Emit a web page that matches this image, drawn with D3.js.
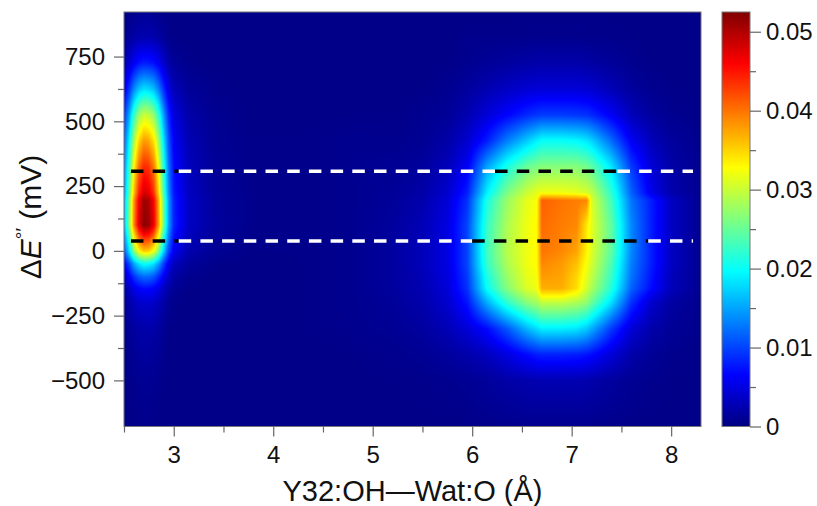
<!DOCTYPE html>
<html>
<head>
<meta charset="utf-8">
<script src="https://cdn.jsdelivr.net/npm/d3@7"></script>
<style>
  body { margin: 0; background: #fff; }
  svg { display: block; font-family: "Liberation Sans", Arial, Helvetica, sans-serif; }
</style>
</head>
<body>
<svg id="chart" width="817" height="506"></svg>
<script>
// distance grid (Å) = columns of the density map
const distNodes = [2.50, 2.55, 2.60, 2.65, 2.70, 2.75, 2.80, 2.85, 2.90, 2.95, 3.00, 3.15, 3.40, 3.80,
                   4.30, 4.80, 5.20, 5.50, 5.75, 5.95, 6.15, 6.35, 6.55, 6.65, 6.70, 6.90, 7.05, 7.15,
                   7.20, 7.40, 7.60, 7.80, 8.00, 8.30];
// potential grid (mV) = rows, top to bottom
const potNodes = [925, 825, 725, 625, 525, 425, 325, 225, 195, 100, 0, -50, -100, -145, -200, -300, -400, -500, -675];
// density, x 10^-3 (one row per potNodes entry)
const density = [
  [0.4,0.5,0.75,0.9,1,1,0.9,0.7,0.5,0.4,0.4,0.4,0.4,0.4, 0.4,0.4, 0.4,0.4,0.4,0.4,0.4,0.4,0.5,0.5,0.5,0.5,0.5,0.5,0.5,0.4,0.4,0.4,0.4,0.4],
  [0.75,1.25,1.9,2.3,2.5,2.45,2.25,1.8,1.2,0.7,0.4,0.4,0.4,0.4, 0.4,0.4, 0.4,0.4,0.4,0.6,0.6,0.6,0.6,0.7,0.7,0.7,0.7,0.6,0.6,0.6,0.5,0.4,0.4,0.4],
  [2.4,4,6,7.4,8,7.8,7.2,5.8,3.8,2.2,1.3,0.6,0.4,0.4, 0.4,0.4, 0.4,0.4,0.5,0.8,1.2,1.6,2,2.2,2.2,2.2,2.2,2,1.8,1.3,0.8,0.5,0.4,0.4],
  [5.4,9,13.5,16.6,18,17.6,16.2,13,8.6,5,2.9,1.3,0.6,0.4, 0.4,0.4, 0.4,0.5,0.8,1.5,2.5,3.5,4.2,4.5,4.5,4.5,4.5,4.2,4,2.8,1.5,0.8,0.5,0.4],
  [9,15,22.5,27.6,30,29.4,27,21.6,14.4,8.4,4.8,2.1,0.9,0.4, 0.4,0.5, 0.5,0.8,1.2,2.5,4.5,6.5,8.5,9.2,9.5,9.5,9.3,9,8.5,6,3,1.5,0.8,0.5],
  [11.4,19,28.5,35,38,37.2,34.2,27.4,18.2,10.6,6.1,2.7,1.1,0.5, 0.5,0.8, 0.7,1,2,4,8,13,17,19,20,20,19.5,18.5,17.5,12,6,3,1.5,0.7],
  [13.2,22,33,40.5,44,43.1,39.6,31.7,21.1,12.3,7,3.1,1.3,0.5, 0.5,0.8, 1,1.5,3,6,15,21,25,26,26.5,26.5,26.5,25.5,24.5,18.5,9.5,4.5,2,0.8],
  [14.4,24,36,44.2,48,47,43.2,34.6,23,13.4,7.7,3.4,1.4,0.6, 0.5,0.8, 1.2,2,4,8,19,26,30,31.5,32,32,31.5,30.5,29.5,22,11.5,5.5,2.3,0.8],
  [15.3,25.5,38.3,46.9,51,50,45.9,36.7,24.5,14.3,8.2,3.6,1.5,0.6, 0.5,0.8, 1.3,2.3,4.5,9,21,27.5,31.5,32.5,41,40,39.5,39,31,23,12.5,8,3.5,0.8],
  [15.6,26,39,47.8,52,51,46.8,37.4,25,14.6,8.3,3.6,1.6,0.6, 0.5,0.8, 1.5,2.8,5,10,22.5,28.5,32,33,40.5,39.5,39,34,31.5,24.5,13.5,8,3.5,0.8],
  [10.8,18,27,33.1,36,35.3,32.4,25.9,17.3,10.1,5.8,2.5,1.1,0.5, 0.5,0.8, 1.6,3,5,10,23,29,32,33,40,39,37.5,33.5,31,24.5,13.5,8,3.5,0.8],
  [6,10,15,18.4,20,19.6,18,14.4,9.6,5.6,3.2,1.4,0.6,0.4, 0.5,0.8, 1.6,3,5,10,22.5,28.5,32,33,39,38,36,32.5,30.5,23.5,13,8,3.5,0.8],
  [3.6,6,9,11,12,11.8,10.8,8.6,5.8,3.4,1.9,0.8,0.4,0.4, 0.5,0.8, 1.6,2.8,4.8,9.5,21,27.5,31.5,32.5,38,37.5,35,31.5,29.5,22.5,12.5,7.5,3,0.8],
  [2.1,3.5,5.3,6.4,7,6.9,6.3,5,3.4,2,1.1,0.5,0.4,0.4, 0.5,0.8, 1.5,2.6,4.5,9,20,26.5,31,32,37,37,34.5,30.5,28.5,21.5,11.5,7,3,0.8],
  [1.2,2,3,3.7,4,3.9,3.6,2.9,1.9,1.1,0.6,0.4,0.4,0.4, 0.5,0.8, 1.3,2.3,4,7.5,15.5,22,26.5,28,29.5,29.5,28.5,27,25,18,9,4,1.8,0.7],
  [0.7,1.1,1.65,2,2.2,2.15,2,1.6,1.05,0.6,0.4,0.4,0.4,0.4, 0.5,0.7, 1,1.6,2.8,4.5,7,11,16,18,19,19,18.5,17,15.5,9.5,4.5,2.2,1.2,0.6],
  [0.45,0.75,1.1,1.4,1.5,1.5,1.35,1.1,0.7,0.4,0.4,0.4,0.4,0.4, 0.4,0.5, 0.7,1,1.5,2.2,3.2,5,7,8,8.2,8.2,8,7.5,7,4.5,2.2,1.2,0.7,0.5],
  [0.4,0.5,0.75,0.9,1,1,0.9,0.7,0.5,0.4,0.4,0.4,0.4,0.4, 0.4,0.4, 0.5,0.6,0.8,1,1.4,2,2.4,2.5,2.6,2.6,2.5,2.4,2.2,1.6,1,0.7,0.5,0.4],
  [0.4,0.4,0.45,0.55,0.6,0.6,0.55,0.45,0.4,0.4,0.4,0.4,0.4,0.4, 0.4,0.4, 0.4,0.4,0.4,0.5,0.6,0.7,0.8,0.8,0.8,0.8,0.8,0.8,0.7,0.6,0.5,0.4,0.4,0.4]
];

const xTicks = [3, 4, 5, 6, 7, 8];
const xMinor = [2.5, 3.5, 4.5, 5.5, 6.5, 7.5];
const yTicks = [-500, -250, 0, 250, 500, 750];
const yMinor = [-375, -125, 125, 375, 625];
const cbTicks = [0, 0.01, 0.02, 0.03, 0.04, 0.05];
const cbMinor = [0.005, 0.015, 0.025, 0.035, 0.045];

// two reference potentials (mV); each dashed line changes colour at these distances
const refLevels = [307, 38];
const refBreaks = [
  [2.57, 3.05, 6.23, 7.46, 8.22],
  [2.57, 3.05, 6.00, 7.77, 8.22]
];
const refColors = ["black", "white", "black", "white"];

const svg = d3.select("#chart");
const plot = { left: 124, top: 12, right: 701, bottom: 426.5 };
const x = d3.scaleLinear().domain([2.5, 8.3]).range([plot.left, plot.right]);
const y = d3.scaleLinear().domain([-678, 922]).range([plot.bottom, plot.top]);

const vmax = 0.0525;
const jetStops = [0, 0.125, 0.375, 0.625, 0.875, 1];
const jetCols = ["#000080", "#0000ff", "#00ffff", "#ffff00", "#ff0000", "#800000"];
const color = d3.scaleLinear()
    .domain(jetStops.map(t => t * vmax))
    .range(jetCols)
    .clamp(true);

// locate a value inside a (possibly descending) grid
function cell(nodes, v) {
    const asc = nodes[0] < nodes[nodes.length - 1];
    let i = 0;
    while (i < nodes.length - 2 && (asc ? v > nodes[i + 1] : v < nodes[i + 1])) i++;
    const t = (v - nodes[i]) / (nodes[i + 1] - nodes[i]);
    return [i, Math.max(0, Math.min(1, t))];
}

// density map drawn into a canvas, then placed in the svg
const pw = Math.round(plot.right - plot.left);
const ph = Math.round(plot.bottom - plot.top);
const canvas = document.createElement("canvas");
canvas.width = pw;
canvas.height = ph;
const ctx = canvas.getContext("2d");
const img = ctx.createImageData(pw, ph);
const colCells = d3.range(pw).map(px => cell(distNodes, x.invert(plot.left + px + 0.5)));
const rowCells = d3.range(ph).map(py => cell(potNodes, y.invert(plot.top + py + 0.5)));

for (let py = 0; py < ph; py++) {
    const [j, ty] = rowCells[py];
    for (let px = 0; px < pw; px++) {
        const [i, tx] = colCells[px];
        const a = density[j][i] * (1 - tx) + density[j][i + 1] * tx;
        const b = density[j + 1][i] * (1 - tx) + density[j + 1][i + 1] * tx;
        const c = d3.rgb(color((a * (1 - ty) + b * ty) * 1e-3));
        const k = (py * pw + px) * 4;
        img.data[k] = c.r;
        img.data[k + 1] = c.g;
        img.data[k + 2] = c.b;
        img.data[k + 3] = 255;
    }
}
ctx.putImageData(img, 0, 0);

svg.append("image")
    .attr("x", plot.left)
    .attr("y", plot.top)
    .attr("width", pw)
    .attr("height", ph)
    .attr("preserveAspectRatio", "none")
    .attr("href", canvas.toDataURL());

// dashed reference lines
refLevels.forEach((lv, n) => {
    const br = refBreaks[n];
    for (let k = 0; k < br.length - 1; k++) {
        svg.append("line")
            .attr("x1", x(br[k]))
            .attr("x2", x(br[k + 1]))
            .attr("y1", y(lv))
            .attr("y2", y(lv))
            .attr("stroke", refColors[k])
            .attr("stroke-width", 3.5)
            .attr("stroke-dasharray", "12.5,9.2");
    }
});

svg.append("rect")
    .attr("x", plot.left)
    .attr("y", plot.top)
    .attr("width", plot.right - plot.left)
    .attr("height", plot.bottom - plot.top)
    .attr("fill", "none")
    .attr("stroke", "#777")
    .attr("stroke-width", 1);

function styleAxis(g) {
    g.select(".domain").remove();
    g.selectAll(".tick line").attr("stroke", "#666").attr("stroke-width", 1.2);
    g.selectAll(".tick text").attr("fill", "#111").style("font-size", "24px")
        .style("font-family", "'Liberation Sans', Arial, sans-serif");
}

const fmtY = d => (d < 0 ? "\u2212" + Math.abs(d) : String(d));

// x axis
svg.append("g")
    .attr("transform", `translate(0,${plot.bottom})`)
    .call(d3.axisBottom(x).tickValues(xTicks).tickSize(10).tickPadding(9).tickFormat(d3.format("d")))
    .call(styleAxis);
svg.append("g")
    .attr("transform", `translate(0,${plot.bottom})`)
    .call(d3.axisBottom(x).tickValues(xMinor).tickSize(6).tickFormat(""))
    .call(styleAxis);

// y axis
svg.append("g")
    .attr("transform", `translate(${plot.left},0)`)
    .call(d3.axisLeft(y).tickValues(yTicks).tickSize(10).tickPadding(9).tickFormat(fmtY))
    .call(styleAxis);
svg.append("g")
    .attr("transform", `translate(${plot.left},0)`)
    .call(d3.axisLeft(y).tickValues(yMinor).tickSize(6).tickFormat(""))
    .call(styleAxis);

// axis titles
svg.append("text")
    .attr("x", (plot.left + plot.right) / 2)
    .attr("y", 501)
    .attr("text-anchor", "middle")
    .style("font-size", "29px")
    .attr("fill", "#111")
    .text("Y32:OH\u2014Wat:O (\u00c5)");

const yl = svg.append("text")
    .attr("transform", "translate(41,217) rotate(-90)")
    .attr("text-anchor", "middle")
    .style("font-size", "30px")
    .attr("fill", "#111");
yl.append("tspan").text("\u0394");
yl.append("tspan").style("font-style", "italic").text("E");
yl.append("tspan").attr("dy", -12).style("font-size", "19px").text("\u00b0\u2032");
yl.append("tspan").attr("dy", 12).text(" (mV)");

// colour bar
const cb = { left: 722, right: 750 };
const cbY = d3.scaleLinear().domain([0, vmax]).range([plot.bottom, plot.top]);
const grad = svg.append("defs").append("linearGradient")
    .attr("id", "jet")
    .attr("x1", 0).attr("y1", 1).attr("x2", 0).attr("y2", 0);
grad.selectAll("stop")
    .data(jetStops)
    .join("stop")
    .attr("offset", d => d)
    .attr("stop-color", (d, i) => jetCols[i]);

svg.append("rect")
    .attr("x", cb.left)
    .attr("y", plot.top)
    .attr("width", cb.right - cb.left)
    .attr("height", plot.bottom - plot.top)
    .attr("fill", "url(#jet)")
    .attr("stroke", "#777")
    .attr("stroke-width", 1);

svg.append("g")
    .attr("transform", `translate(${cb.right},0)`)
    .call(d3.axisRight(cbY).tickValues(cbTicks).tickSize(11).tickPadding(5)
        .tickFormat(d => (d === 0 ? "0" : d3.format(".2f")(d))))
    .call(styleAxis);
svg.append("g")
    .attr("transform", `translate(${cb.right},0)`)
    .call(d3.axisRight(cbY).tickValues(cbMinor).tickSize(6).tickFormat(""))
    .call(styleAxis);
</script>
</body>
</html>
